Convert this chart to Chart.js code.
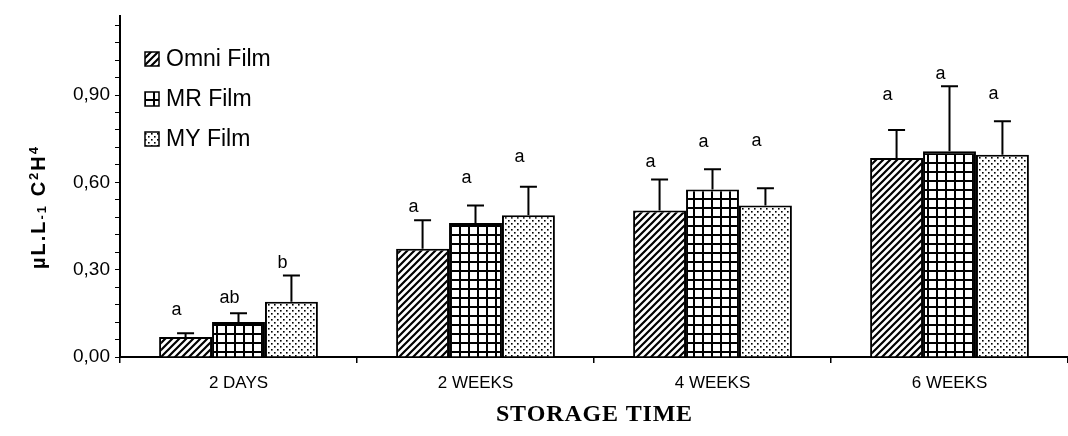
<!DOCTYPE html>
<html>
<head>
<meta charset="utf-8">
<script src="https://cdn.jsdelivr.net/npm/chart.js@4.4.1/dist/chart.umd.min.js"></script>
<style>
  html, body { margin: 0; padding: 0; background: #fff; }
  #wrap { width: 1068px; height: 436px; }
</style>
</head>
<body>
<div id="wrap"><canvas id="chart" width="1068" height="436"></canvas></div>
<script>
// Data
const categories = ['2 DAYS', '2 WEEKS', '4 WEEKS', '6 WEEKS'];
const seriesNames = ['Omni Film', 'MR Film', 'MY Film'];
const omniValues = [0.069, 0.372, 0.503, 0.684];
const mrValues   = [0.120, 0.460, 0.575, 0.707];
const myValues   = [0.190, 0.487, 0.520, 0.695];
const omniErrors = [0.013, 0.098, 0.107, 0.096];
const mrErrors   = [0.030, 0.060, 0.070, 0.223];
const myErrors   = [0.090, 0.098, 0.060, 0.115];
// significance letters and the level (in axis units) where each one sits
const omniLetters = ['a', 'a', 'a', 'a'];
const mrLetters   = ['ab', 'a', 'a', 'a'];
const myLetters   = ['b', 'a', 'a', 'a'];
const omniLetterLevels = [0.160, 0.514, 0.670, 0.901];
const mrLetterLevels   = [0.204, 0.616, 0.738, 0.973];
const myLetterLevels   = [0.323, 0.687, 0.741, 0.905];
const yMajorTicks = [0, 0.30, 0.60, 0.90];

// Build hatch patterns
function makePattern(kind) {
    const c = document.createElement('canvas');
    const ctx = c.getContext('2d');
    let s = 7;
    if (kind === 'grid') s = 9;
    if (kind === 'dots') s = 6;
    c.width = s; c.height = s;
    ctx.fillStyle = '#fff';
    ctx.fillRect(0, 0, s, s);
    ctx.strokeStyle = '#000';
    ctx.fillStyle = '#000';
    if (kind === 'diag') {
        ctx.lineWidth = 2.2;
        ctx.beginPath();
        ctx.moveTo(-1, s + 1); ctx.lineTo(s + 1, -1);
        ctx.moveTo(-1, 1); ctx.lineTo(1, -1);
        ctx.moveTo(s - 1, s + 1); ctx.lineTo(s + 1, s - 1);
        ctx.stroke();
    } else if (kind === 'grid') {
        ctx.fillRect(0, 0, s, 2);
        ctx.fillRect(0, 0, 2, s);
    } else {
        ctx.fillRect(1, 1, 1.6, 1.6);
        ctx.fillRect(4, 4, 1.6, 1.6);
    }
    return document.createElement('canvas').getContext('2d').createPattern(c, 'repeat');
}

const patterns = [makePattern('diag'), makePattern('grid'), makePattern('dots')];
const allValues = [omniValues, mrValues, myValues];
const allErrors = [omniErrors, mrErrors, myErrors];
const allLetters = [omniLetters, mrLetters, myLetters];
const allLetterLevels = [omniLetterLevels, mrLetterLevels, myLetterLevels];

// draw text char by char with extra spacing
function spacedText(ctx, text, x, y, gap) {
    for (const ch of text) {
        ctx.fillText(ch, x, y);
        x += ctx.measureText(ch).width + gap;
    }
    return x;
}
function spacedWidth(ctx, text, gap) {
    let w = 0;
    for (const ch of text) w += ctx.measureText(ch).width + gap;
    return w;
}

// Error bars + significance letters
const errorBarPlugin = {
    id: 'errorBars',
    afterDatasetsDraw(chart) {
        const ctx = chart.ctx;
        const y = chart.scales.y;
        ctx.save();
        ctx.strokeStyle = '#000';
        ctx.fillStyle = '#000';
        ctx.lineWidth = 2;
        ctx.font = '18px "Liberation Sans", Arial, sans-serif';
        ctx.textAlign = 'center';
        ctx.textBaseline = 'middle';
        chart.data.datasets.forEach((ds, di) => {
            const meta = chart.getDatasetMeta(di);
            meta.data.forEach((bar, i) => {
                const top = y.getPixelForValue(allValues[di][i] + allErrors[di][i]);
                ctx.beginPath();
                ctx.moveTo(bar.x, bar.y);
                ctx.lineTo(bar.x, top);
                ctx.moveTo(bar.x - 8.5, top);
                ctx.lineTo(bar.x + 8.5, top);
                ctx.stroke();
                ctx.fillText(allLetters[di][i], bar.x - 9, y.getPixelForValue(allLetterLevels[di][i]));
            });
        });
        ctx.restore();
    }
};

// Legend, axis titles
const decorPlugin = {
    id: 'decor',
    afterDraw(chart) {
        const ctx = chart.ctx;
        ctx.save();
        // legend
        ctx.font = '23px "Liberation Sans", Arial, sans-serif';
        ctx.textBaseline = 'middle';
        ctx.textAlign = 'left';
        seriesNames.forEach((name, i) => {
            const cy = 59 + i * 40;
            ctx.fillStyle = patterns[i];
            ctx.fillRect(145, cy - 7, 14, 14);
            ctx.strokeStyle = '#000';
            ctx.lineWidth = 1.5;
            ctx.strokeRect(145, cy - 7, 14, 14);
            ctx.fillStyle = '#000';
            ctx.fillText(name, 166, cy + 1);
        });

        // y axis title (rotated, with sub/superscripts)
        ctx.translate(45, 207);
        ctx.rotate(-Math.PI / 2);
        const gap = 2;
        const parts = [
            { t: '\u00b5L.L', f: 'bold 20px', dy: 0 },
            { t: '-1', f: 'bold 13px', dy: 1 },
            { t: ' C', f: 'bold 20px', dy: 0 },
            { t: '2', f: 'bold 13px', dy: -7 },
            { t: 'H', f: 'bold 20px', dy: 0 },
            { t: '4', f: 'bold 13px', dy: -7 }
        ];
        let total = 0;
        parts.forEach(p => {
            ctx.font = p.f + ' "Liberation Sans", Arial, sans-serif';
            p.w = spacedWidth(ctx, p.t, gap);
            total += p.w;
        });
        let x = -total / 2;
        ctx.textAlign = 'left';
        ctx.textBaseline = 'alphabetic';
        parts.forEach(p => {
            ctx.font = p.f + ' "Liberation Sans", Arial, sans-serif';
            x = spacedText(ctx, p.t, x, p.dy, gap);
        });
        ctx.setTransform(1, 0, 0, 1, 0, 0);

        // x axis title
        ctx.font = 'bold 24px "Liberation Serif", "Times New Roman", serif';
        ctx.textAlign = 'left';
        ctx.textBaseline = 'middle';
        const tgap = 0.8;
        const tw = spacedWidth(ctx, 'STORAGE TIME', tgap) - tgap;
        spacedText(ctx, 'STORAGE TIME', 594 - tw / 2, 415, tgap);
        ctx.restore();
    }
};

const ctx = document.getElementById('chart').getContext('2d');
const chart = new Chart(ctx, {
    type: 'bar',
    data: {
        labels: categories,
        datasets: seriesNames.map((name, i) => ({
            label: name,
            data: allValues[i],
            backgroundColor: patterns[i],
            borderColor: '#000',
            borderWidth: 2,
            borderSkipped: 'bottom'
        }))
    },
    options: {
        responsive: false,
        animation: false,
        layout: { padding: { top: 13, left: 0, right: 0, bottom: 0 } },
        plugins: {
            legend: { display: false },
            tooltip: { enabled: false }
        },
        datasets: {
            bar: { categoryPercentage: 0.67, barPercentage: 1.0 }
        },
        scales: {
            x: {
                offset: true,
                grid: {
                    offset: true,
                    drawOnChartArea: false,
                    drawTicks: true,
                    tickLength: 6,
                    color: '#000',
                    lineWidth: 1.5
                },
                border: { color: '#000', width: 2 },
                ticks: {
                    color: '#000',
                    padding: 10,
                    font: { family: '"Liberation Sans", Arial, sans-serif', size: 17 }
                },
                afterFit(scale) { scale.height = 79; }
            },
            y: {
                min: 0,
                max: 1.17,
                afterBuildTicks(scale) {
                    const t = [];
                    for (let i = 0; i <= 19; i++) t.push({ value: +(i * 0.06).toFixed(2) });
                    scale.ticks = t;
                },
                grid: {
                    drawOnChartArea: false,
                    drawTicks: true,
                    tickLength: 5,
                    color: '#000',
                    lineWidth: 1
                },
                border: { color: '#000', width: 2 },
                ticks: {
                    color: '#000',
                    padding: 5,
                    autoSkip: false,
                    font: { family: '"Liberation Sans", Arial, sans-serif', size: 19 },
                    callback(value) {
                        const hit = yMajorTicks.find(v => Math.abs(v - value) < 1e-6);
                        return hit === undefined ? '' : hit.toFixed(2).replace('.', ',');
                    }
                },
                afterFit(scale) { scale.width = 120; }
            }
        }
    },
    plugins: [errorBarPlugin, decorPlugin]
});
</script>
</body>
</html>
